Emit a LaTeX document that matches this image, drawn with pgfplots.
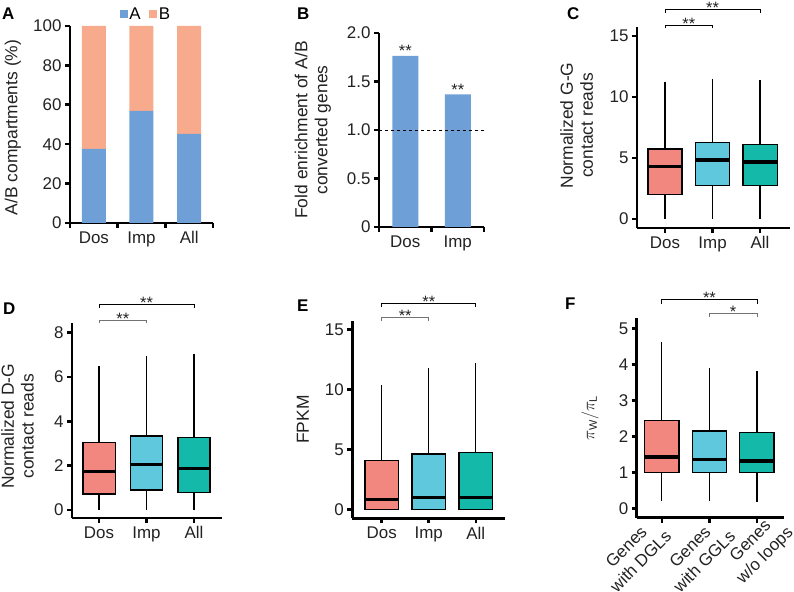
\documentclass[border=0pt]{standalone}
\usepackage{pgfplots}
\pgfplotsset{compat=1.18}
\usepgfplotslibrary{statistics}
\usepackage{fontspec}
\setmainfont{Liberation Sans}
\definecolor{barA}{HTML}{6EA0D7}
\definecolor{barB}{HTML}{F7AA8C}
\definecolor{bxpink}{HTML}{F2877F}
\definecolor{bxcyan}{HTML}{5FC8DC}
\definecolor{bxteal}{HTML}{14B9AA}
\definecolor{txt}{HTML}{222222}
\pgfplotsset{
  panel/.style={
    scale only axis,
    axis lines=left,
    axis line style={-, line width=2.6bp, black},
    tick style={line width=2.6bp, black},
    major tick length=5bp,
    tick align=outside,
    ticklabel style={font=\fontsize{17}{19}\selectfont, text=txt},
    label style={font=\fontsize{17.5}{20}\selectfont, text=txt, align=center},
    /pgf/number format/assume math mode=true,
    clip=false,
  },
  sqlegend/.style={legend image code/.code={\fill[##1] (0bp,-4bp) rectangle (8bp,4bp);}},
  bx/.style={
    boxplot/draw direction=y,
    boxplot/every box/.style={line width=1.3bp},
    boxplot/every median/.style={line width=3.5bp},
    boxplot/every whisker/.style={line width=1.2bp},
  },
}
\tikzset{
  brk/.style={line width=0.8bp, black},
  brk2/.style={line width=0.8bp, black!55},
  stars/.style={anchor=base, yshift=-4bp, font=\fontsize{16.5}{18}\selectfont, text=txt, inner sep=0pt},
  rotlab/.style={rotate=45, anchor=center, align=center, inner sep=0pt, font=\fontsize{17}{20.5}\selectfont, text=txt},
}
\newcommand{\plabel}[3]{\node[anchor=north west, inner sep=0pt, font=\bfseries\fontsize{17}{18}\selectfont] at (#1bp,#2bp) {#3};}
\begin{document}
\begin{tikzpicture}
\useasboundingbox (0,0) rectangle (794bp,592bp);
% ---------------- A
\begin{axis}[panel, at={(70bp,369bp)}, anchor=south west, width=143bp, height=197bp,
  ybar stacked, bar width=24bp, xmin=-0.5, xmax=2.5, ymin=0, ymax=100,
  xtick={-0.5,0.5,1.5,2.5}, x tick label as interval, xticklabels={Dos,Imp,All},
  ytick={0,20,40,60,80,100},
  ylabel={A/B compartments (\%)},
  ylabel style={at={(axis description cs:-0.399,0.485)}, anchor=center},
  legend style={at={(0.53,1)}, anchor=south, yshift=3bp, draw=none, fill=none,
    legend columns=2, font=\fontsize{17}{19}\selectfont, inner sep=0pt,
    /tikz/every even column/.append style={column sep=6bp}},
  legend cell align=left]
\addplot[fill=barA, draw=none, sqlegend] coordinates {(0,37.6) (1,56.9) (2,45.2)};
\addplot[fill=barB, draw=none, sqlegend] coordinates {(0,62.4) (1,43.1) (2,54.8)};
\legend{A,B}
\end{axis}
% ---------------- B
\begin{axis}[panel, at={(379bp,365bp)}, anchor=south west, width=105bp, height=194bp,
  ybar, bar width=26bp, xmin=-0.5, xmax=1.5, ymin=0, ymax=2,
  xtick={-0.5,0.5,1.5}, x tick label as interval, xticklabels={Dos,Imp},
  ytick={0,0.5,1,1.5,2}, yticklabels={0,0.5,1.0,1.5,2.0},
  ylabel={Fold enrichment of A/B\\converted genes},
  ylabel style={at={(axis description cs:-0.63,0.5)}, anchor=center}]
\addplot[fill=barA, draw=none] coordinates {(0,1.763) (1,1.368)};
\addplot[dashed, black, line width=0.8bp, forget plot, sharp plot] coordinates {(-0.5,1.0) (1.5,1.0)};
\node[stars] at (axis cs:0,1.80) {**};
\node[stars] at (axis cs:1,1.40) {**};
\end{axis}
% ---------------- C
\begin{axis}[panel, bx, at={(637bp,364bp)}, anchor=south west, width=153bp, height=201bp,
  xmin=-0.59, xmax=2.63, ymin=-0.74, ymax=15.74,
  xtick={0,1,2}, xticklabels={Dos,Imp,All}, ytick={0,5,10,15},
  ylabel={Normalized G-G\\contact reads},
  ylabel style={at={(axis description cs:-0.395,0.51)}, anchor=center}]
\addplot[draw=black, fill=bxpink, boxplot prepared={draw position=0, lower whisker=0, lower quartile=2.02, median=4.29, upper quartile=5.74, upper whisker=11.25, box extend=0.72, whisker extend=0}] coordinates {};
\addplot[draw=black, fill=bxcyan, boxplot prepared={draw position=1, lower whisker=0, lower quartile=2.73, median=4.84, upper quartile=6.26, upper whisker=11.5, box extend=0.72, whisker extend=0}] coordinates {};
\addplot[draw=black, fill=bxteal, boxplot prepared={draw position=2, lower whisker=0, lower quartile=2.73, median=4.67, upper quartile=6.12, upper whisker=11.4, box extend=0.72, whisker extend=0}] coordinates {};
\draw[brk] (axis cs:0,16.9) |- (axis cs:2,17.19) -- (axis cs:2,16.9);
\draw[brk] (axis cs:0,15.62) |- (axis cs:1,15.84) -- (axis cs:1,15.62);
\node[stars] at (axis cs:1,17.19) {**};
\node[stars] at (axis cs:0.5,15.84) {**};
\end{axis}
% ---------------- D
\begin{axis}[panel, bx, at={(72bp,74bp)}, anchor=south west, width=150bp, height=195.3bp,
  xmin=-0.57, xmax=2.59, ymin=-0.36, ymax=8.44,
  xtick={0,1,2}, xticklabels={Dos,Imp,All}, ytick={0,2,4,6,8},
  ylabel={Normalized D-G\\contact reads},
  ylabel style={at={(axis description cs:-0.363,0.47)}, anchor=center}]
\addplot[draw=black, fill=bxpink, boxplot prepared={draw position=0, lower whisker=0, lower quartile=0.72, median=1.73, upper quartile=3.03, upper whisker=6.49, box extend=0.68, whisker extend=0}] coordinates {};
\addplot[draw=black, fill=bxcyan, boxplot prepared={draw position=1, lower whisker=0, lower quartile=0.9, median=2.06, upper quartile=3.33, upper whisker=6.95, box extend=0.68, whisker extend=0}] coordinates {};
\addplot[draw=black, fill=bxteal, boxplot prepared={draw position=2, lower whisker=0, lower quartile=0.79, median=1.87, upper quartile=3.26, upper whisker=7.05, box extend=0.68, whisker extend=0}] coordinates {};
\draw[brk] (axis cs:0,9.09) |- (axis cs:2,9.27) -- (axis cs:2,9.09);
\draw[brk2] (axis cs:0,8.41) |- (axis cs:1,8.56) -- (axis cs:1,8.41);
\node[stars] at (axis cs:1,9.27) {**};
\node[stars] at (axis cs:0.5,8.56) {**};
\end{axis}
% ---------------- E
\begin{axis}[panel, bx, at={(352.3bp,73.7bp)}, anchor=south west, width=152.7bp, height=197.6bp,
  xmin=-0.625, xmax=2.62, ymin=-0.75, ymax=15.72,
  xtick={0,1,2}, xticklabels={Dos,Imp,All}, ytick={0,5,10,15},
  ylabel={FPKM},
  ylabel style={at={(axis description cs:-0.323,0.5)}, anchor=center}]
\addplot[draw=black, fill=bxpink, boxplot prepared={draw position=0, lower whisker=0, lower quartile=0, median=0.83, upper quartile=4.05, upper whisker=10.36, box extend=0.71, whisker extend=0}] coordinates {};
\addplot[draw=black, fill=bxcyan, boxplot prepared={draw position=1, lower whisker=0, lower quartile=0, median=1.0, upper quartile=4.61, upper whisker=11.75, box extend=0.71, whisker extend=0}] coordinates {};
\addplot[draw=black, fill=bxteal, boxplot prepared={draw position=2, lower whisker=0, lower quartile=0, median=1.0, upper quartile=4.75, upper whisker=12.17, box extend=0.71, whisker extend=0}] coordinates {};
\draw[brk] (axis cs:0,16.83) |- (axis cs:2,17.17) -- (axis cs:2,16.83);
\draw[brk2] (axis cs:0,15.72) |- (axis cs:1,16.0) -- (axis cs:1,15.72);
\node[stars] at (axis cs:1,17.17) {**};
\node[stars] at (axis cs:0.5,16.0) {**};
\end{axis}
% ---------------- F
\begin{axis}[panel, bx, at={(636.7bp,74.3bp)}, anchor=south west, width=147.3bp, height=199.4bp,
  xmin=-0.53, xmax=2.57, ymin=-0.26, ymax=5.28,
  xtick={0,1,2}, xticklabels={},
  ytick={0,1,2,3,4,5},
  ylabel={$\pi_{\mbox{\fontsize{11}{11}\selectfont W}}/\pi_{\mbox{\fontsize{11}{11}\selectfont L}}$},
  ylabel style={at={(axis description cs:-0.317,0.5)}, anchor=center}]
\addplot[draw=black, fill=bxpink, boxplot prepared={draw position=0, lower whisker=0.21, lower quartile=0.99, median=1.42, upper quartile=2.45, upper whisker=4.63, box extend=0.72, whisker extend=0}] coordinates {};
\addplot[draw=black, fill=bxcyan, boxplot prepared={draw position=1, lower whisker=0.21, lower quartile=0.99, median=1.36, upper quartile=2.15, upper whisker=3.91, box extend=0.72, whisker extend=0}] coordinates {};
\addplot[draw=black, fill=bxteal, boxplot prepared={draw position=2, lower whisker=0.17, lower quartile=0.99, median=1.31, upper quartile=2.10, upper whisker=3.81, box extend=0.72, whisker extend=0}] coordinates {};
\draw[brk] (axis cs:0,5.69) |- (axis cs:2,5.81) -- (axis cs:2,5.69);
\draw[brk2] (axis cs:1,5.32) |- (axis cs:2,5.42) -- (axis cs:2,5.32);
\node[stars] at (axis cs:1,5.81) {**};
\node[stars] at (axis cs:1.5,5.42) {*};
\node[rotlab] at (axis cs:-0.60,-1.27) {Genes\\with DGLs};
\node[rotlab] at (axis cs:0.74,-1.27) {Genes\\with GGLs};
\node[rotlab] at (axis cs:2.03,-1.12) {Genes\\w/o loops};
\end{axis}
\plabel{2}{584}{A}
\plabel{297}{584}{B}
\plabel{567}{585}{C}
\plabel{3}{289}{D}
\plabel{297}{292}{E}
\plabel{565}{294}{F}
\end{tikzpicture}
\end{document}
